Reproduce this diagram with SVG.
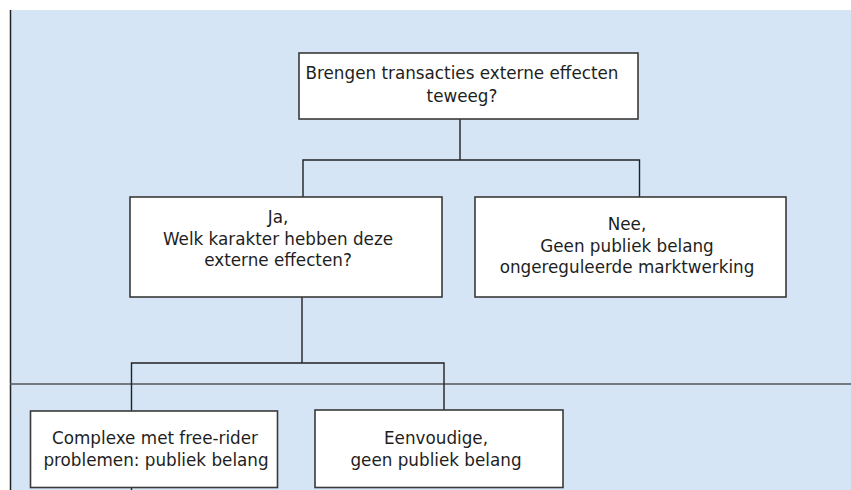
<svg xmlns="http://www.w3.org/2000/svg" width="851" height="490" viewBox="0 0 851 490">
  <style>
    .box { fill: #ffffff; stroke: #3a3a3a; stroke-width: 1.6; }
    .wire { fill: none; stroke: #222222; stroke-width: 1.4; }
    .lbl { font-family: "DejaVu Sans", Verdana, sans-serif; font-size: 16.8px; fill: #1e1e1e; text-anchor: middle; }
  </style>
  <!-- page background -->
  <rect x="0" y="0" width="851" height="490" fill="#ffffff"/>
  <rect x="10" y="10" width="841" height="480" fill="#d5e5f5"/>
  <line x1="10.5" y1="10" x2="10.5" y2="490" stroke="#222222" stroke-width="1.5"/>
  <line x1="10" y1="384" x2="851" y2="384" stroke="#555555" stroke-width="1.5"/>

  <g id="connectors">
    <path class="wire" d="M460 119 V160 M303 197 V160 H639.5 V197"/>
    <path class="wire" d="M302 297 V363 M131.5 411 V363 H444 V410"/>
    <path class="wire" d="M131.5 487 V490"/>
  </g>

  <g id="q-external">
    <rect class="box" x="299" y="53" width="339" height="66"/>
    <text class="lbl" x="462" y="79">Brengen transacties externe effecten</text>
    <text class="lbl" x="462" y="102">teweeg?</text>
  </g>

  <g id="yes-character">
    <rect class="box" x="130" y="197" width="312" height="100"/>
    <text class="lbl" x="278" y="223">Ja,</text>
    <text class="lbl" x="278" y="245">Welk karakter hebben deze</text>
    <text class="lbl" x="278" y="266">externe effecten?</text>
  </g>

  <g id="no-public">
    <rect class="box" x="475" y="197" width="311" height="100"/>
    <text class="lbl" x="627" y="230">Nee,</text>
    <text class="lbl" x="627" y="252">Geen publiek belang</text>
    <text class="lbl" x="627" y="273">ongereguleerde marktwerking</text>
  </g>

  <g id="complex">
    <rect class="box" x="30.5" y="411" width="247" height="76.5"/>
    <text class="lbl" x="155" y="444">Complexe met free-rider</text>
    <text class="lbl" x="156" y="466">problemen: publiek belang</text>
  </g>

  <g id="simple">
    <rect class="box" x="315" y="410" width="248" height="77.5"/>
    <text class="lbl" x="436" y="444">Eenvoudige,</text>
    <text class="lbl" x="436" y="466">geen publiek belang</text>
  </g>
</svg>
